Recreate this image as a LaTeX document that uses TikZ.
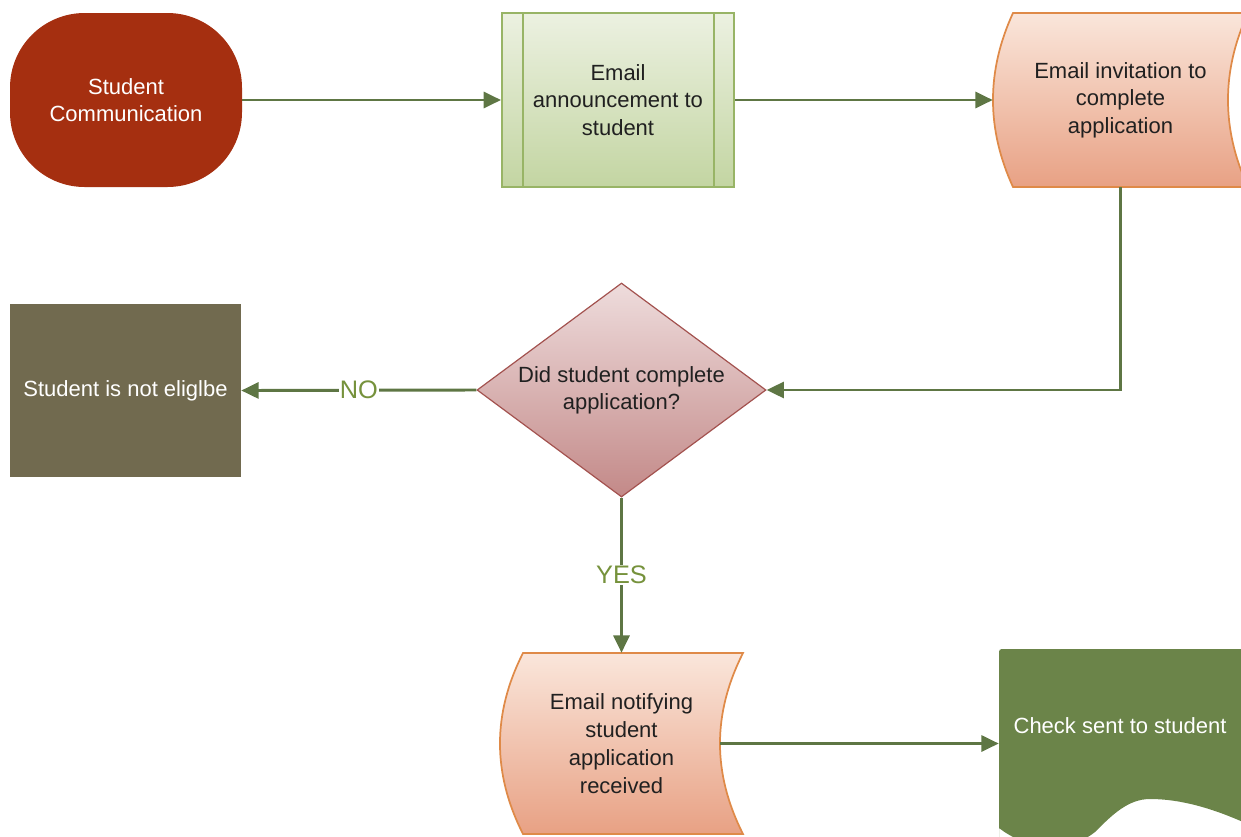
\documentclass[tikz,border=0pt]{standalone}
\usepackage{fontspec}
\setmainfont{Liberation Sans}
\usetikzlibrary{arrows.meta,shapes.geometric,calc}
\definecolor{termc}{HTML}{A52F10}
\definecolor{linec}{HTML}{5E7644}
\definecolor{lblc}{HTML}{76923C}
\definecolor{subtop}{HTML}{ECF1E1}
\definecolor{subbot}{HTML}{C3D5A2}
\definecolor{subdraw}{HTML}{98B466}
\definecolor{sttop}{HTML}{FAE6DB}
\definecolor{stbot}{HTML}{E8A184}
\definecolor{stdraw}{HTML}{DF8A48}
\definecolor{dtop}{HTML}{EEDCDC}
\definecolor{dbot}{HTML}{C38988}
\definecolor{ddraw}{HTML}{A3524F}
\definecolor{nelc}{HTML}{716A4F}
\definecolor{chkc}{HTML}{6B8449}
\definecolor{txtc}{HTML}{202020}
\tikzset{
  txt/.style={font=\fontsize{16.5pt}{20.5pt}\selectfont, align=center},
  lbl/.style={fill=white, text=lblc, inner sep=1pt, font=\fontsize{19pt}{22pt}\selectfont},
  conn/.style={draw=linec, line width=2.2pt, -{Triangle[length=13pt,width=12pt]}},
  termbox/.style={rectangle, rounded corners=56pt, fill=termc, text=white, minimum width=174pt, minimum height=130.5pt, inner sep=0pt, txt},
  subbox/.style={rectangle, top color=subtop, bottom color=subbot, draw=subdraw, line width=1.5pt, minimum width=174pt, minimum height=130.5pt, inner sep=0pt, txt, text=txtc},
  stored/.style={top color=sttop, bottom color=stbot, draw=stdraw, line width=1.3pt},
  holder/.style={rectangle, inner sep=0pt, txt},
  decbox/.style={diamond, top color=dtop, bottom color=dbot, draw=ddraw, line width=0.9pt, minimum width=216.75pt, minimum height=160.5pt, inner sep=0pt},
  nelbox/.style={rectangle, fill=nelc, text=white, minimum width=173.25pt, minimum height=129.75pt, inner sep=0pt, txt}
}
\begin{document}
\begin{tikzpicture}[x=0.75pt,y=-0.75pt]
\useasboundingbox (0,0) rectangle (1241,836);
\clip (0,0) rectangle (1241,836);

% terminator
\node[termbox] (comm) at (126,100) {Student\\Communication};

% subprocess
\node[subbox] (ann) at (618,100) {Email\\announcement to\\student};
\draw[subdraw, line width=1.5pt] ($(ann.north west)+(22,0)$) -- ($(ann.south west)+(22,0)$);
\draw[subdraw, line width=1.5pt] ($(ann.north east)+(-21,0)$) -- ($(ann.south east)+(-21,0)$);

% stored data: invitation
\path[stored] (1013,13) -- (1248,13) .. controls (1221.3,71) and (1221.3,129) .. (1248,187)
  -- (1013,187) .. controls (986.3,129) and (986.3,71) .. (1013,13) -- cycle;
\node[holder, text=txtc, minimum width=191.25pt, minimum height=130.5pt] (inv) at (1120.5,100) {Email invitation to\\complete\\application};

% decision
\node[decbox] (dec) at (621.5,390) {};
\node[txt, text=txtc] at (dec.center) {Did student complete\\application?};

% not eligible
\node[nelbox] (nel) at (125.5,390.5) {Student is not eliglbe};

% stored data: notification
\path[stored] (523,653) -- (743,653) .. controls (712.3,713.7) and (712.3,773.3) .. (743,834)
  -- (523,834) .. controls (492.3,773.3) and (492.3,713.7) .. (523,653) -- cycle;
\node[holder, text=txtc, font=\fontsize{16.5pt}{21pt}\selectfont, minimum width=182.25pt, minimum height=135.75pt] (notif) at (621.5,743.5) {Email notifying\\student\\application\\received};

% document: check
\path[fill=chkc, rounded corners=2pt] (999,840) -- (999,649) -- (1260,649) -- (1260,830)
  [sharp corners] .. controls (1215,808) and (1180,799) .. (1150,799)
  .. controls (1128,799) and (1112,815) .. (1095,832)
  .. controls (1070,852) and (1030,852) .. (999,828) -- cycle;
\node[holder, text=white, minimum width=181.5pt] (chk) at (1120,726) {Check sent to student};

% connectors
\draw[conn] (comm.east) -- (ann.west);
\draw[conn] (ann.east) -- (inv.west);
\draw[conn] (inv.south) |- (dec.east);
\draw[conn] (dec.west) -- node[lbl] {NO} (nel.east);
\draw[conn] (dec.south) -- node[lbl] {YES} (notif.north);
\coordinate (notifout) at ($(notif.east)+(-23,0)$);
\draw[conn] (notifout) -- (notifout -| chk.west);
\end{tikzpicture}
\end{document}
